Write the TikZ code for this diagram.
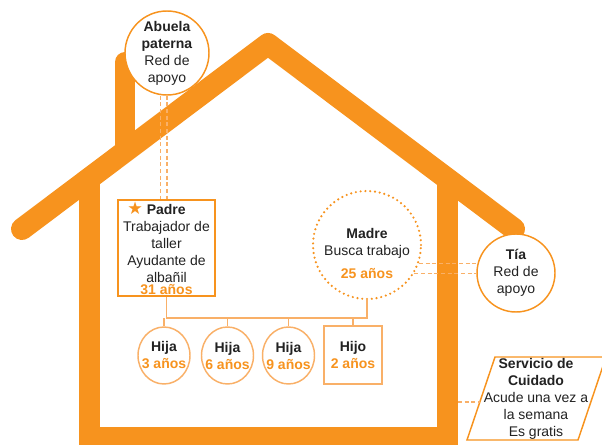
\documentclass[tikz,border=0pt]{standalone}
\usepackage{fontspec}
\setmainfont{Liberation Sans}
\newfontfamily\simbolos{DejaVu Sans}
\usepackage{tikz}
\usetikzlibrary{shapes.geometric}
\definecolor{naranja}{RGB}{247,147,30}
\definecolor{naranjaclaro}{RGB}{249,176,104}
\definecolor{tinta}{RGB}{34,34,34}
\newcommand{\edad}[1]{\textcolor{naranja}{\textbf{#1}}}

\begin{document}
\begin{tikzpicture}[x=0.75pt, y=-0.75pt,
    every node/.style={font=\fontsize{10.5}{12.75}\selectfont, text=tinta, align=center},
    tejado/.style={line width=16.5pt, naranja, line cap=round, line join=round},
    pared/.style={line width=15.75pt, naranja, line join=miter},
    chimenea/.style={line width=15pt, naranja, line cap=round},
    redapoyo/.style={circle, draw=naranja, line width=1.1pt, fill=white, minimum size=#1, inner sep=0pt},
    caja/.style={rectangle, draw=#1, line width=1.1pt, fill=white, inner sep=1pt},
    madrecirc/.style={circle, draw=naranja, line width=1.8pt, dash pattern=on 0pt off 3.6pt, line cap=round, fill=white, minimum size=81pt, inner sep=0pt},
    hija/.style={ellipse, draw=naranjaclaro, line width=1.1pt, fill=white, minimum width=39pt, minimum height=42.75pt, inner sep=0pt},
    enlace/.style={naranjaclaro, line width=0.8pt, dash pattern=on 3pt off 2pt},
    linea/.style={naranjaclaro, line width=1.1pt}]
    \useasboundingbox (0,0) rectangle (602,445);
    % Casa
    \draw[chimenea] (125,62) -- (125,150);
    \draw[pared] (89.5,178) -- (89.5,437) -- (447.5,437) -- (447.5,178);
    \draw[tejado] (22,229) -- (268,44) -- (514,229);
    % Red de apoyo
    \node[redapoyo=63pt, label={center:{\textbf{Abuela}\\\textbf{paterna}\\Red de\\apoyo}}] (abuela) at (167,53) {};
    \node[redapoyo=58.5pt, label={center:{\textbf{Tía}\\Red de\\apoyo}}] (tia) at (516,273) {};
    % Padres
    \node[caja=naranja, minimum width=72.75pt, minimum height=72pt] (padre) at (166.5,248)
        {{\simbolos\fontsize{13}{12.75}\selectfont\textcolor{naranja}{★}}~\textbf{Padre}\hspace*{15pt}\\Trabajador de\\taller\\Ayudante de\\albañil\\[-3.75pt]\edad{31 años}};
    \node[madrecirc, label={[yshift=-6pt]center:{\textbf{Madre}\\Busca trabajo\\[4.5pt]\edad{25 años}}}] (madre) at (367,245) {};
    % Hijos
    \node[hija, label={center:{\textbf{Hija}\\\edad{3 años}}}] (hija1) at (164,355.5) {};
    \node[hija, label={center:{\textbf{Hija}\\\edad{6 años}}}] (hija2) at (227.5,355.5) {};
    \node[hija, label={center:{\textbf{Hija}\\\edad{9 años}}}] (hija3) at (288.5,355.5) {};
    \node[caja=naranjaclaro, minimum size=43.5pt] (hijo) at (353,355) {\textbf{Hijo}\\\edad{2 años}};
    % Servicio de cuidado
    \draw[naranja, line width=1.1pt, fill=white] (467,440) -- (495,357) -- (606,357) -- (578,440) -- cycle;
    \node (servicio) at (536,399) {\textbf{Servicio de}\\\textbf{Cuidado}\\Acude una vez a\\la semana\\Es gratis};
    \coordinate (muro) at (458,402);
    \coordinate (servicioizq) at (480,402);
    % Enlaces
    \draw[enlace] ([xshift=-5pt]abuela.south) -- ([xshift=-5pt]abuela.south |- padre.north);
    \draw[enlace] (abuela.south) -- (abuela.south |- padre.north);
    \draw[enlace] (madre.-20) -- (madre.-20 -| tia.west);
    \draw[enlace] (madre.-31) -- (madre.-31 -| tia.west);
    \draw[enlace] (muro) -- (servicioizq);
    \coordinate (barra) at (0,318);
    \draw[linea] (padre.south) -- (padre.south |- barra) -- (madre.south |- barra) -- (madre.south);
    \foreach \h in {hija1,hija2,hija3,hijo}
        \draw[linea] (\h.north |- barra) -- (\h.north);
\end{tikzpicture}
\end{document}
